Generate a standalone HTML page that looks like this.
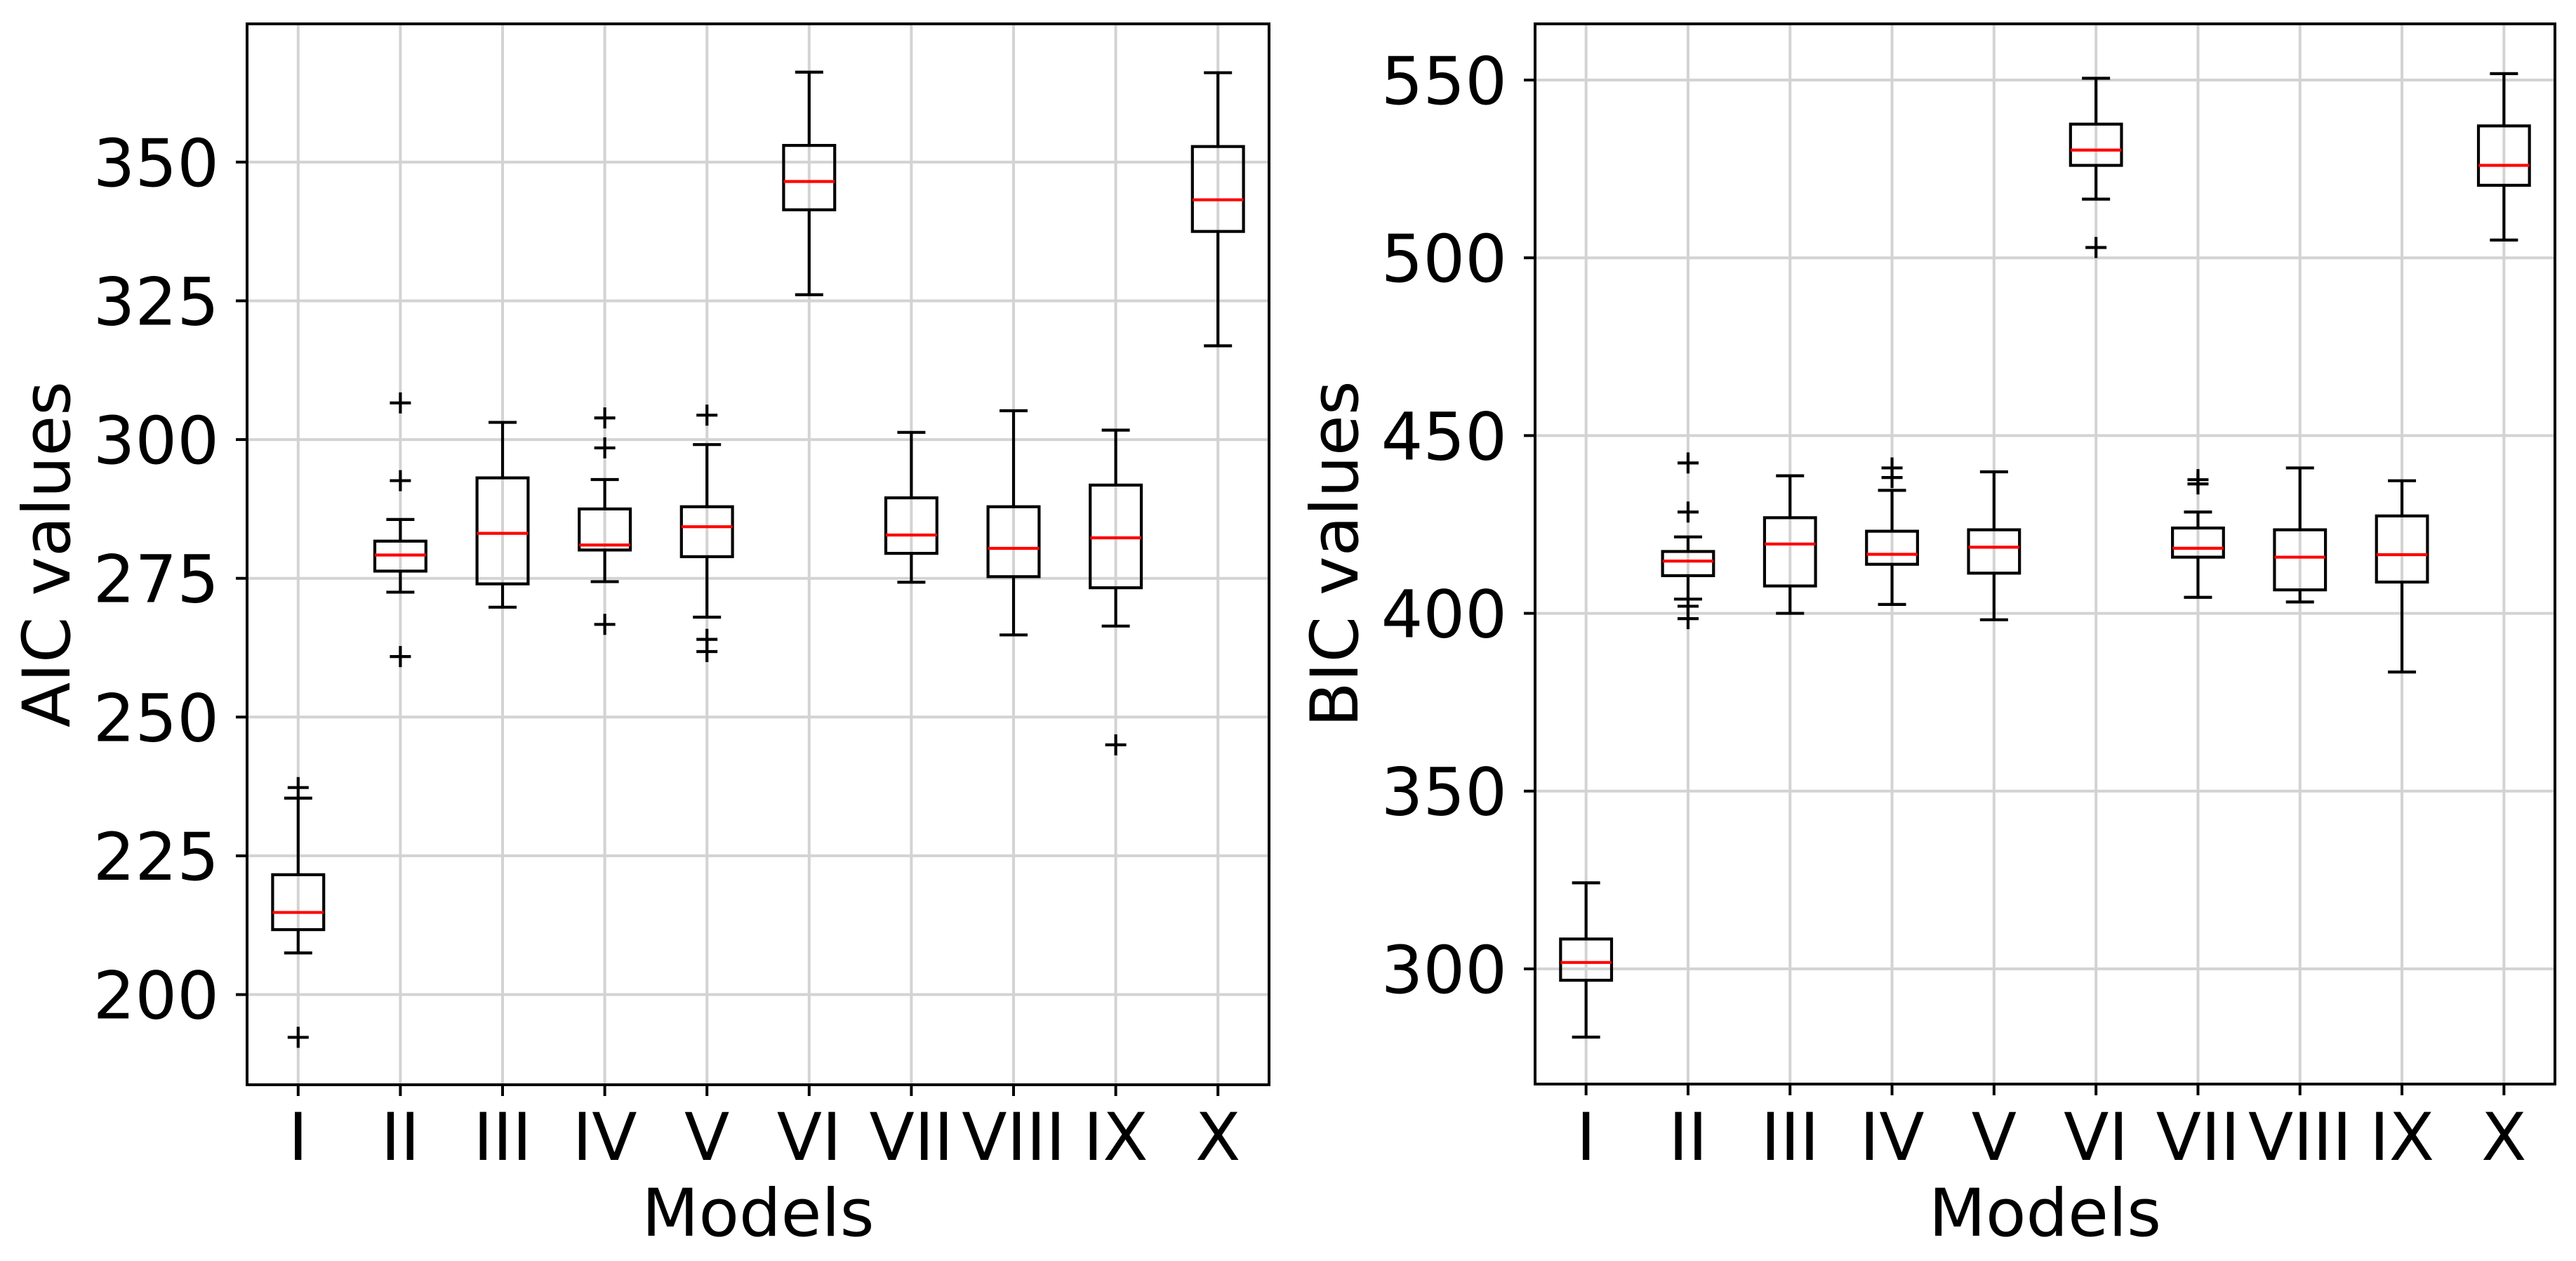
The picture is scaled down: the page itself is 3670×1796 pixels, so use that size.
<!DOCTYPE html>
<html><head><meta charset="utf-8"><style>
html,body{margin:0;padding:0;background:#fff;}
svg{display:block;font-family:"DejaVu Sans","Liberation Sans",sans-serif;}
</style></head><body>
<svg id="chart" width="3670" height="1796" viewBox="0 0 3670 1796" xmlns="http://www.w3.org/2000/svg">
<rect width="3670" height="1796" fill="#fff"/>
</svg>
<script>
const categories = ["I","II","III","IV","V","VI","VII","VIII","IX","X"];
// AIC: [whiskerLow, q1, median, q3, whiskerHigh]
const aicStats = [
 [207.5,211.7,214.8,221.6,235.4],
 [272.5,276.3,279.2,281.7,285.6],
 [269.8,274.0,283.1,293.1,303.1],
 [274.4,280.1,281.0,287.5,292.8],
 [268.0,278.9,284.3,287.9,299.1],
 [326.1,341.4,346.5,353.0,366.2],
 [274.3,279.5,282.8,289.5,301.3],
 [264.8,275.3,280.4,287.9,305.2],
 [266.4,273.3,282.3,291.8,301.7],
 [316.9,337.5,343.2,352.8,366.1]
];
const aicFliers = [[237.3,192.3],[306.6,292.6,260.9],[],[303.9,298.5,266.7],[304.4,264.0,261.8],[],[],[],[245.0],[]];
const aicTicks = [200,225,250,275,300,325,350];
const bicStats = [
 [280.8,296.8,301.8,308.4,324.2],
 [404.0,410.6,414.7,417.4,421.5],
 [400.0,407.7,419.5,426.9,438.7],
 [402.5,413.8,416.6,423.1,434.6],
 [398.2,411.3,418.6,423.5,439.8],
 [516.5,526.0,530.3,537.6,550.5],
 [404.5,415.8,418.3,424.0,428.5],
 [403.2,406.6,415.8,423.5,440.9],
 [383.5,408.8,416.5,427.4,437.3],
 [505.0,520.4,526.0,537.1,551.8]
];
const bicFliers = [[],[442.3,428.5,402.0,398.5],[],[440.9,438.2],[],[502.9],[437.6,436.4],[],[],[]];
const bicTicks = [300,350,400,450,500,550];

const NS="http://www.w3.org/2000/svg";
const svg=document.getElementById('chart');
function mk(tag,attrs,parent){const e=document.createElementNS(NS,tag);for(const k in attrs)e.setAttribute(k,attrs[k]);(parent||svg).appendChild(e);return e;}

function panel(o){
  const g=mk('g',{});
  
  
  const xs=i=>o.x0+(i+1-0.5)/10*(o.x1-o.x0);
  const ys=v=>o.y1-(v-o.ymin)/(o.ymax-o.ymin)*(o.y1-o.y0);
  // grid
  o.ticks.forEach(t=>{const l=mk('line',{x1:o.x0,x2:o.x1,y1:ys(t),y2:ys(t),stroke:'#d3d3d3','stroke-width':4},g);
    });
  categories.forEach((c,i)=>{const l=mk('line',{x1:xs(i),x2:xs(i),y1:o.y0,y2:o.y1,stroke:'#d3d3d3','stroke-width':4},g);
    });
  // boxes
  const bw=0.5/10*(o.x1-o.x0), cw=40;
  o.stats.forEach((s,i)=>{
    const b=mk('g',{},g);
    
    
    const x=xs(i);
    const st={stroke:'#000','stroke-width':4.2,fill:'none'};
    mk('line',Object.assign({x1:x,x2:x,y1:ys(s[0]),y2:ys(s[1])},st),b);
    mk('line',Object.assign({x1:x,x2:x,y1:ys(s[3]),y2:ys(s[4])},st),b);
    mk('line',Object.assign({x1:x-cw/2,x2:x+cw/2,y1:ys(s[0]),y2:ys(s[0])},st),b);
    mk('line',Object.assign({x1:x-cw/2,x2:x+cw/2,y1:ys(s[4]),y2:ys(s[4])},st),b);
    mk('rect',Object.assign({x:x-bw/2,y:ys(s[3]),width:bw,height:ys(s[1])-ys(s[3])},st),b);
    const m=mk('line',{x1:x-bw/2,x2:x+bw/2,y1:ys(s[2]),y2:ys(s[2]),stroke:'#ff0000','stroke-width':4.2},b);
    
    o.fliers[i].forEach(f=>{const p=mk('path',{d:`M${x-15},${ys(f)}h30M${x},${ys(f)-15}v30`,stroke:'#000','stroke-width':4.2},b);
      });
  });
  // frame
  const fr=mk('rect',{x:o.x0,y:o.y0,width:o.x1-o.x0,height:o.y1-o.y0,fill:'none',stroke:'#000','stroke-width':4},g);
  
  // y ticks
  o.ticks.forEach(t=>{mk('line',{x1:o.x0-16,x2:o.x0,y1:ys(t),y2:ys(t),stroke:'#000','stroke-width':4},g);
    const tx=mk('text',{x:o.x0-40,y:ys(t)+34,'text-anchor':'end','font-size':94,fill:'#000'},g);
    tx.textContent=t;});
  categories.forEach((c,i)=>{mk('line',{x1:xs(i),x2:xs(i),y1:o.y1,y2:o.y1+16,stroke:'#000','stroke-width':4},g);
    const tx=mk('text',{x:xs(i),y:1652,'text-anchor':'middle','font-size':94,fill:'#000'},g);
    tx.textContent=c;});
  const xt=mk('text',{x:(o.x0+o.x1)/2,y:1760,'text-anchor':'middle','font-size':94,fill:'#000'},g);
  xt.textContent='Models';
  const cy=(o.y0+o.y1)/2, tx0=o.x0-253;
  const yt=mk('text',{x:tx0,y:cy,'text-anchor':'middle','font-size':94,fill:'#000',transform:`rotate(-90 ${tx0} ${cy})`},g);
  yt.textContent=o.ytitle;
}
panel({name:'aic-panel',x0:352,x1:1808,y0:34,y1:1545,ymin:183.75,ymax:374.9,stats:aicStats,fliers:aicFliers,ticks:aicTicks,ytitle:'AIC values'});
panel({name:'bic-panel',x0:2187,x1:3640,y0:34,y1:1544,ymin:267.6,ymax:565.8,stats:bicStats,fliers:bicFliers,ticks:bicTicks,ytitle:'BIC values'});
</script>
</body></html>
